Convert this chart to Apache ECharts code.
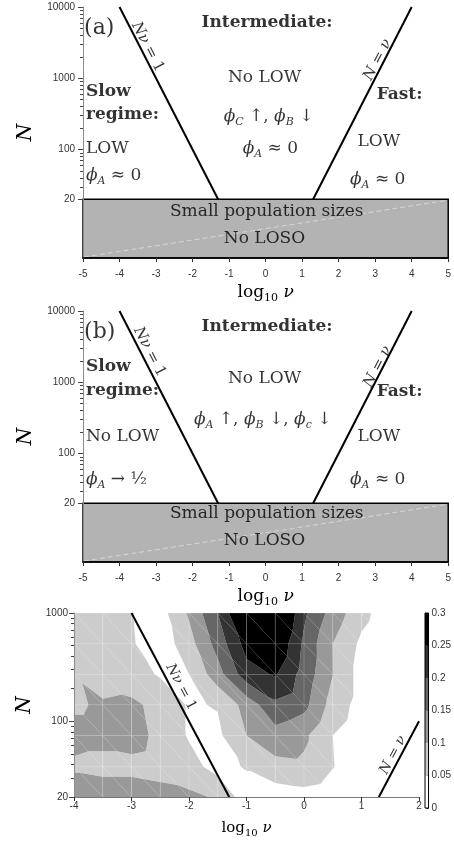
<!DOCTYPE html>
<html><head><meta charset="utf-8">
<script src="https://cdn.jsdelivr.net/npm/echarts@6.0.0/dist/echarts.min.js"></script>
<style>html,body{margin:0;padding:0;background:#fff}#c{width:454px;height:844px}</style>
</head><body><div id="c"></div>
<script>
// ---------------- data ----------------
// panels (a) and (b)
const nuTicksAB = [-5, -4, -3, -2, -1, 0, 1, 2, 3, 4, 5];
const nuRangeAB = [-5, 5];
const nRangeAB = [3, 10000];
const nTickLabelsAB = [20, 100, 1000, 10000];
const nMinorTicksAB = [30, 40, 50, 60, 70, 80, 90, 200, 300, 400, 500, 600, 700, 800, 900,
  2000, 3000, 4000, 5000, 6000, 7000, 8000, 9000];
const smallPopN = 20;
const slowBoundaryN_AB = [20, 10000];   // N*nu = 1
const fastBoundaryN_AB = [20, 10000];   // N = nu
// panel (c)
const nuTicksC = [-4, -3, -2, -1, 0, 1, 2];
const nuRangeC = [-4, 2];
const nRangeC = [20, 1000];
const nTickLabelsC = [20, 100, 1000];
const nMinorTicksC = [30, 40, 50, 60, 70, 80, 90, 200, 300, 400, 500, 600, 700, 800, 900];
const slowBoundaryN_C = [20, 1000];
const fastBoundaryN_C = [20, 100];
const gridNu = [-4, -3.5, -3, -2.5, -2, -1.5, -1, -0.5, 0, 0.5, 1, 1.5];   // log10 nu
const gridN = [20, 38, 74, 142, 272, 521, 1000];
const phiA = [ // one row per gridN value (N = 20 first), one column per gridNu value
  [0.12, 0.12, 0.12, 0.115, 0.11, 0.095, 0.02, 0.02, 0.03, 0.02, 0.01, 0.005],
  [0.095, 0.09, 0.09, 0.085, 0.07, 0.03, 0.055, 0.085, 0.09, 0.052, 0.02, 0.01],
  [0.11, 0.11, 0.115, 0.09, 0.045, 0.04, 0.10, 0.13, 0.11, 0.05, 0.02, 0.01],
  [0.095, 0.105, 0.11, 0.085, 0.045, 0.053, 0.12, 0.19, 0.165, 0.08, 0.03, 0.01],
  [0.098, 0.08, 0.07, 0.045, 0.05, 0.13, 0.23, 0.255, 0.18, 0.101, 0.03, 0.01],
  [0.075, 0.07, 0.055, 0.02, 0.08, 0.17, 0.27, 0.30, 0.19, 0.10, 0.04, 0.01],
  [0.07, 0.07, 0.052, 0.03, 0.107, 0.20, 0.33, 0.34, 0.21, 0.13, 0.065, 0.02]
];
const levels = [0, 0.05, 0.1, 0.15, 0.2, 0.25, 0.3];

// ---------------- style ----------------
const bandColors = ['#ffffff', '#cccccc', '#999999', '#666666', '#333333', '#000000'];
const SERIF = 'DejaVu Serif', SANS = 'Liberation Sans';
const L = Math.log10;
const richText = {
  p: {fontFamily: SERIF, fontSize: 22, color: '#000', lineHeight: 26},
  b: {fontFamily: SERIF, fontSize: 17, fontWeight: 'bold', color: '#000', lineHeight: 22},
  r: {fontFamily: SERIF, fontSize: 17, color: '#000', lineHeight: 22},
  i: {fontFamily: SERIF, fontSize: 17, fontStyle: 'italic', color: '#000', lineHeight: 22},
  s: {fontFamily: SERIF, fontSize: 11, fontStyle: 'italic', color: '#000', lineHeight: 11, verticalAlign: 'bottom'},
  u: {fontFamily: SERIF, fontSize: 11, color: '#000', lineHeight: 11, verticalAlign: 'bottom'},
  li: {fontFamily: SERIF, fontSize: 15, fontStyle: 'italic', color: '#000', lineHeight: 18},
  lr: {fontFamily: SERIF, fontSize: 15, color: '#000', lineHeight: 18},
  ci: {fontFamily: SERIF, fontSize: 14, fontStyle: 'italic', color: '#000', lineHeight: 17},
  cr: {fontFamily: SERIF, fontSize: 14, color: '#000', lineHeight: 17},
  xr: {fontFamily: SERIF, fontSize: 15, color: '#000', lineHeight: 20},
  xs: {fontFamily: SERIF, fontSize: 10, color: '#000', lineHeight: 10, verticalAlign: 'bottom'},
  xi: {fontFamily: SERIF, fontSize: 15, fontStyle: 'italic', color: '#000', lineHeight: 20}
};
const PHI_A0 = '{i|ϕ}{s|A}{r| ≈ 0}';
const angAB = 62.8, angC = 62.0;
// text annotations: [text, [log10 nu, log10 N], align, rotate]
const notesA = [
  ['{p|(a)}', [-4.97, 3.706], 'left', 0],
  ['{b|Intermediate:}', [0.04, 3.776], 'center', 0],
  ['{b|Slow}', [-4.92, 2.811], 'left', 0],
  ['{b|regime:}', [-4.92, 2.49], 'left', 0],
  ['{r|LOW}', [-4.92, 2.014], 'left', 0],
  [PHI_A0, [-4.92, 1.636], 'left', 0],
  ['{r|No LOW}', [-0.03, 3.007], 'center', 0],
  ['{i|ϕ}{s|C}{r| ↑, }{i|ϕ}{s|B}{r| ↓}', [0.08, 2.462], 'center', 0],
  [PHI_A0, [0.13, 2.014], 'center', 0],
  ['{b|Fast:}', [3.04, 2.769], 'left', 0],
  ['{r|LOW}', [3.1, 2.112], 'center', 0],
  [PHI_A0, [3.07, 1.58], 'center', 0],
  ['{r|Small population sizes}', [0.03, 1.133], 'center', 0],
  ['{r|No LOSO}', [-0.03, 0.755], 'center', 0],
  ['{li|Nν}{lr| = 1}', [-3.23, 3.44], 'center', -angAB],
  ['{li|N}{lr| = }{li|ν}', [3.07, 3.26], 'center', angAB]
];
const notesB = [
  ['{p|(b)}', [-4.97, 3.706], 'left', 0],
  ['{b|Intermediate:}', [0.04, 3.776], 'center', 0],
  ['{b|Slow}', [-4.92, 3.217], 'left', 0],
  ['{b|regime:}', [-4.92, 2.881], 'left', 0],
  ['{r|No LOW}', [-4.92, 2.238], 'left', 0],
  ['{i|ϕ}{s|A}{r| → ½}', [-4.92, 1.636], 'left', 0],
  ['{r|No LOW}', [-0.03, 3.049], 'center', 0],
  ['{i|ϕ}{s|A}{r| ↑, }{i|ϕ}{s|B}{r| ↓, }{i|ϕ}{s|c}{r| ↓}', [-0.08, 2.476], 'center', 0],
  ['{b|Fast:}', [3.04, 2.867], 'left', 0],
  ['{r|LOW}', [3.1, 2.238], 'center', 0],
  [PHI_A0, [3.07, 1.636], 'center', 0],
  ['{r|Small population sizes}', [0.03, 1.161], 'center', 0],
  ['{r|No LOSO}', [-0.03, 0.783], 'center', 0],
  ['{li|Nν}{lr| = 1}', [-3.18, 3.427], 'center', -angAB],
  ['{li|N}{lr| = }{li|ν}', [3.07, 3.217], 'center', angAB]
];
const notesC = [
  ['{ci|Nν}{cr| = 1}', [-2.14, 2.317], 'center', -angC],
  ['{ci|N}{cr| = }{ci|ν}', [1.55, 1.689], 'center', angC]
];

// ---------------- helpers ----------------
function noteSeries(notes, xi, yi) {
  return {
    type: 'scatter', xAxisIndex: xi, yAxisIndex: yi, symbolSize: 1, silent: true, z: 6,
    itemStyle: {color: 'rgba(0,0,0,0)'},
    data: notes.map(n => ({
      value: n[1],
      label: {show: true, position: 'inside', formatter: n[0], align: n[2], verticalAlign: 'middle',
              rotate: n[3], rich: richText}
    }))
  };
}
function yAxes(gi, nRange, majors, minors, gap, margin) {
  const min = L(nRange[0]), max = L(nRange[1]);
  return [{
    gridIndex: gi, type: 'value', position: 'left', min, max, z: 5,
    name: 'N', nameLocation: 'middle', nameRotate: 90, nameGap: gap,
    nameTextStyle: {fontFamily: SERIF, fontStyle: 'italic', fontSize: 20, color: '#000'},
    axisLine: {show: true, onZero: false, lineStyle: {color: '#8c8c8c', width: 1}},
    axisTick: {show: true, customValues: majors.map(L), length: 5, lineStyle: {color: '#444'}},
    axisLabel: {show: true, customValues: majors.map(L), margin,
      formatter: v => String(Math.round(Math.pow(10, v))),
      fontFamily: SANS, fontSize: 10, color: '#333'},
    splitLine: {show: false}
  }, {
    gridIndex: gi, type: 'value', position: 'left', offset: 0, min, max, z: 5,
    axisLine: {show: false, onZero: false},
    axisTick: {show: true, customValues: minors.map(L), length: 3, lineStyle: {color: '#444'}},
    axisLabel: {show: false}, splitLine: {show: false}
  }];
}
function xAxis(gi, range, ticks, gap, margin, lineColor, lineWidth, small) {
  return {
    gridIndex: gi, type: 'value', min: range[0], max: range[1], z: 5,
    name: small ? '{xr|log}{xs|10}{xi| ν}' : '{r|log}{u|10}{i| ν}',
    nameLocation: 'middle', nameGap: gap, nameTextStyle: {rich: richText},
    axisLine: {show: true, onZero: false, lineStyle: {color: lineColor, width: lineWidth}},
    axisTick: {show: true, customValues: ticks, length: 4, lineStyle: {color: '#333'}},
    axisLabel: {show: true, customValues: ticks, margin, fontFamily: SANS, fontSize: 10, color: '#333'},
    splitLine: {show: false}
  };
}
function rectSeries(xi, yi) {
  return {
    type: 'custom', xAxisIndex: xi, yAxisIndex: yi, silent: true, z: 2,
    data: [[nuRangeAB[0], L(nRangeAB[0]), nuRangeAB[1], L(smallPopN)]],
    renderItem(params, api) {
      const p0 = api.coord([api.value(0), api.value(1)]);
      const p1 = api.coord([api.value(2), api.value(3)]);
      return {type: 'group', children: [
        {type: 'rect', shape: {x: p0[0], y: p1[1], width: p1[0] - p0[0], height: p0[1] - p1[1]},
         style: {fill: '#b3b3b3', stroke: '#000', lineWidth: 1.5}},
        {type: 'line', shape: {x1: p0[0] + 1, y1: p0[1] - 1, x2: p1[0] - 1, y2: p1[1] + 1},
         style: {stroke: 'rgba(255,255,255,0.45)', lineWidth: 1, lineDash: [5, 3]}}
      ]};
    }
  };
}
function lineSeries(xi, yi, pts, width) {
  return {type: 'line', xAxisIndex: xi, yAxisIndex: yi, data: pts, symbol: 'none', silent: true, z: 4,
          lineStyle: {color: '#000', width}};
}
function clip(poly, lv, sign) {
  const out = [];
  for (let k = 0; k < poly.length; k++) {
    const P = poly[k], Q = poly[(k + 1) % poly.length];
    const dp = sign * (P[2] - lv), dq = sign * (Q[2] - lv);
    if (dp >= 0) out.push(P);
    if ((dp >= 0) !== (dq >= 0)) {
      const t = dp / (dp - dq);
      out.push([P[0] + t * (Q[0] - P[0]), P[1] + t * (Q[1] - P[1]), lv]);
    }
  }
  return out;
}
const cells = [];
for (let j = 0; j < gridN.length - 1; j++)
  for (let i = 0; i < gridNu.length - 1; i++) cells.push([gridNu[i], L(gridN[j]), i, j]);

function contourItem(params, api) {
  const i = api.value(2), j = api.value(3);
  const P = (a, b) => [gridNu[a], L(gridN[b]), phiA[b][a]];
  const BL = P(i, j), BR = P(i + 1, j), TL = P(i, j + 1), TR = P(i + 1, j + 1);
  const children = [];
  for (const tri of [[TL, TR, BR], [TL, BR, BL]]) {
    for (let k = 1; k < bandColors.length; k++) {
      let poly = clip(tri, levels[k], 1);
      if (k < bandColors.length - 1 && poly.length) poly = clip(poly, levels[k + 1], -1);
      if (poly.length >= 3)
        children.push({type: 'polygon', shape: {points: poly.map(q => api.coord([q[0], q[1]]))},
                       style: {fill: bandColors[k]}});
    }
  }
  const a = api.coord([TL[0], TL[1]]), b = api.coord([BR[0], BR[1]]);
  children.push({type: 'polyline', shape: {points: [[a[0], b[1]], [a[0], a[1]], [b[0], a[1]]]},
                 style: {stroke: 'rgba(255,255,255,0.22)', lineWidth: 0.8, fill: null}});
  return {type: 'group', children};
}

// ---------------- option ----------------
const option = {
  animation: false,
  backgroundColor: '#fff',
  grid: [
    {left: 83, top: 7, width: 368, height: 251},
    {left: 83, top: 311, width: 368, height: 251},
    {left: 74, top: 613, width: 345, height: 184},
    {left: 425, top: 613, width: 10, height: 195, show: true, z: 10, borderColor: '#000', borderWidth: 1,
     backgroundColor: 'rgba(0,0,0,0)'}
  ],
  xAxis: [
    xAxis(0, nuRangeAB, nuTicksAB, 24, 11, '#000', 1.5, false),
    xAxis(1, nuRangeAB, nuTicksAB, 24, 11, '#000', 1.5, false),
    xAxis(2, nuRangeC, nuTicksC, 21, 4, '#777', 1, true),
    {gridIndex: 3, type: 'category', data: [''], show: false}
  ],
  yAxis: [
    ...yAxes(0, nRangeAB, nTickLabelsAB, nMinorTicksAB, 46, 8),
    ...yAxes(1, nRangeAB, nTickLabelsAB, nMinorTicksAB, 46, 8),
    ...yAxes(2, nRangeC, nTickLabelsC, nMinorTicksC, 37, 6),
    {gridIndex: 3, type: 'value', position: 'right', min: levels[0], max: levels[levels.length - 1],
     axisLine: {show: false}, splitLine: {show: false},
     axisTick: {show: true, inside: true, length: 2, customValues: levels, lineStyle: {color: '#000'}},
     axisLabel: {show: true, customValues: levels, margin: 3, fontFamily: SANS, fontSize: 10, color: '#333'}}
  ],
  series: [
    rectSeries(0, 0),
    lineSeries(0, 0, slowBoundaryN_AB.map(N => [-L(N), L(N)]), 2),
    lineSeries(0, 0, fastBoundaryN_AB.map(N => [L(N), L(N)]), 2),
    noteSeries(notesA, 0, 0),
    rectSeries(1, 2),
    lineSeries(1, 2, slowBoundaryN_AB.map(N => [-L(N), L(N)]), 2),
    lineSeries(1, 2, fastBoundaryN_AB.map(N => [L(N), L(N)]), 2),
    noteSeries(notesB, 1, 2),
    {type: 'custom', xAxisIndex: 2, yAxisIndex: 4, data: cells, renderItem: contourItem, silent: true, z: 2},
    lineSeries(2, 4, slowBoundaryN_C.map(N => [-L(N), L(N)]), 2),
    lineSeries(2, 4, fastBoundaryN_C.map(N => [L(N), L(N)]), 2),
    noteSeries(notesC, 2, 4),
    ...bandColors.map((c, k) => ({
      type: 'bar', xAxisIndex: 3, yAxisIndex: 6, stack: 'cb', barWidth: '100%', silent: true,
      data: [levels[k + 1] - levels[k]], itemStyle: {color: c}
    }))
  ]
};
const chart = echarts.init(document.getElementById('c'));
chart.setOption(option);
</script>
</body></html>
